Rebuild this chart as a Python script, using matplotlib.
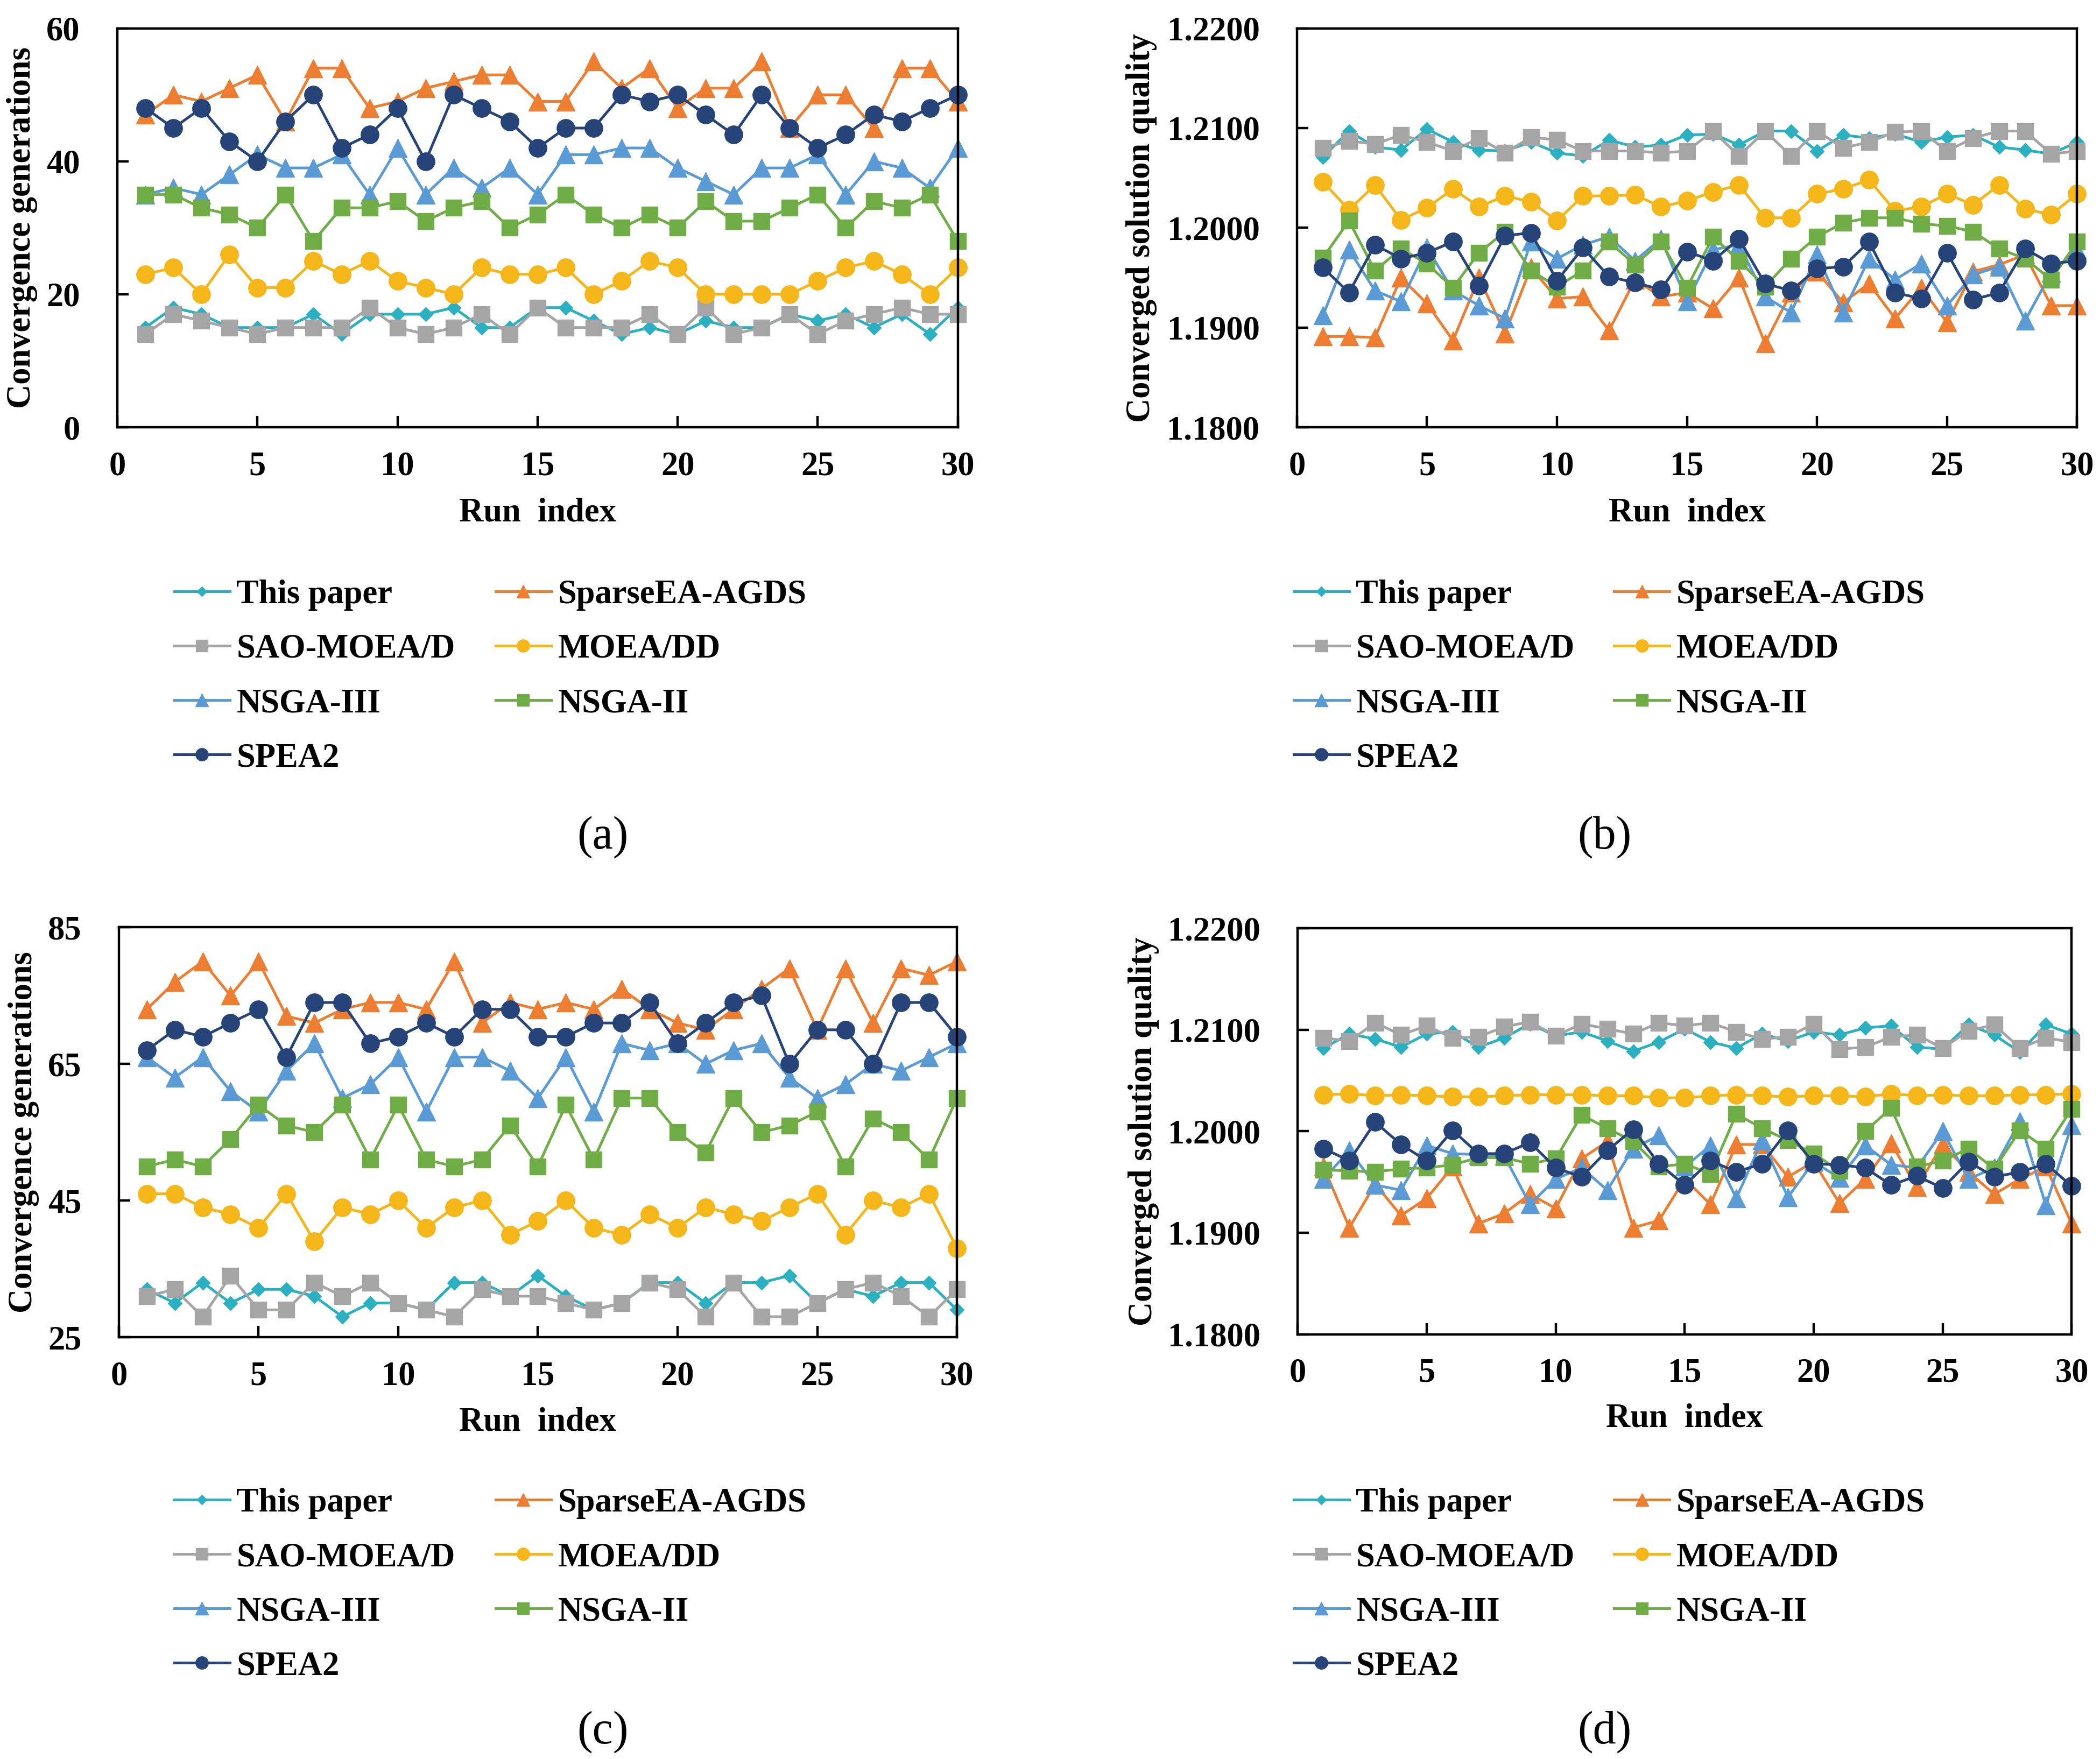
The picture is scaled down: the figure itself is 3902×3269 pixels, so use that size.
import numpy as np
import matplotlib
matplotlib.use("Agg")
import matplotlib.pyplot as plt
from matplotlib.ticker import FormatStrFormatter

runs = np.arange(1, 31)

names = ["This paper", "SparseEA-AGDS", "SAO-MOEA/D", "MOEA/DD", "NSGA-III", "NSGA-II", "SPEA2"]
colors = ["#2BB0C1", "#ED7D31", "#A5A5A5", "#F4B619", "#5B9BD5", "#70AD47", "#264478"]
markers = ["D", "^", "s", "o", "^", "s", "o"]
msizes = [13, 25, 22, 24, 25, 22, 24]

# (a) convergence generations, case 1
a_this = [15, 18, 17, 15, 15, 15, 17, 14, 17, 17, 17, 18, 15, 15, 18, 18, 16, 14, 15, 14, 16, 15, 15, 17, 16, 17, 15, 17, 14, 18]
a_sparse = [47, 50, 49, 51, 53, 46, 54, 54, 48, 49, 51, 52, 53, 53, 49, 49, 55, 51, 54, 48, 51, 51, 55, 45, 50, 50, 45, 54, 54, 49]
a_sao = [14, 17, 16, 15, 14, 15, 15, 15, 18, 15, 14, 15, 17, 14, 18, 15, 15, 15, 17, 14, 18, 14, 15, 17, 14, 16, 17, 18, 17, 17]
a_moeadd = [23, 24, 20, 26, 21, 21, 25, 23, 25, 22, 21, 20, 24, 23, 23, 24, 20, 22, 25, 24, 20, 20, 20, 20, 22, 24, 25, 23, 20, 24]
a_nsga3 = [35, 36, 35, 38, 41, 39, 39, 41, 35, 42, 35, 39, 36, 39, 35, 41, 41, 42, 42, 39, 37, 35, 39, 39, 41, 35, 40, 39, 36, 42]
a_nsga2 = [35, 35, 33, 32, 30, 35, 28, 33, 33, 34, 31, 33, 34, 30, 32, 35, 32, 30, 32, 30, 34, 31, 31, 33, 35, 30, 34, 33, 35, 28]
a_spea2 = [48, 45, 48, 43, 40, 46, 50, 42, 44, 48, 40, 50, 48, 46, 42, 45, 45, 50, 49, 50, 47, 44, 50, 45, 42, 44, 47, 46, 48, 50]

# (b) converged solution quality, case 1
b_this = [1.2071, 1.2097, 1.2081, 1.2078, 1.2099, 1.2086, 1.2078, 1.2077, 1.2086, 1.2075, 1.2072, 1.2088, 1.2081, 1.2083, 1.2093,
          1.2094, 1.2083, 1.2097, 1.2097, 1.2077, 1.2093, 1.2090, 1.2094, 1.2086, 1.2091, 1.2093, 1.2081, 1.2078, 1.2074, 1.2086]
b_sparse = [1.1891, 1.1891, 1.1890, 1.1950, 1.1924, 1.1887, 1.1950, 1.1894, 1.1960, 1.1929, 1.1931, 1.1897, 1.1948, 1.1931, 1.1935,
            1.1919, 1.1950, 1.1884, 1.1935, 1.1956, 1.1925, 1.1944, 1.1909, 1.1940, 1.1905, 1.1956, 1.1963, 1.1973, 1.1922, 1.1922]
b_sao = [1.2080, 1.2087, 1.2084, 1.2093, 1.2086, 1.2077, 1.2090, 1.2075, 1.2091, 1.2088, 1.2077, 1.2077, 1.2077, 1.2075, 1.2077,
         1.2097, 1.2072, 1.2097, 1.2072, 1.2097, 1.2080, 1.2086, 1.2096, 1.2097, 1.2077, 1.2090, 1.2097, 1.2097, 1.2074, 1.2077]
b_moeadd = [1.2046, 1.2018, 1.2043, 1.2008, 1.2020, 1.2039, 1.2021, 1.2032, 1.2026, 1.2007, 1.2032, 1.2032, 1.2033, 1.2021, 1.2027,
            1.2036, 1.2043, 1.2010, 1.2010, 1.2034, 1.2039, 1.2048, 1.2017, 1.2021, 1.2034, 1.2023, 1.2043, 1.2019, 1.2013, 1.2034]
b_nsga3 = [1.1912, 1.1978, 1.1937, 1.1926, 1.1980, 1.1937, 1.1922, 1.1909, 1.1986, 1.1969, 1.1983, 1.1991, 1.1967, 1.1989, 1.1926,
           1.1978, 1.1983, 1.1931, 1.1915, 1.1973, 1.1915, 1.1969, 1.1948, 1.1964, 1.1922, 1.1953, 1.1961, 1.1907, 1.1955, 1.1978]
b_nsga2 = [1.1970, 1.2007, 1.1957, 1.1979, 1.1964, 1.1940, 1.1975, 1.1996, 1.1957, 1.1941, 1.1957, 1.1986, 1.1963, 1.1986, 1.1940,
           1.1991, 1.1967, 1.1941, 1.1969, 1.1991, 1.2005, 1.2010, 1.2010, 1.2004, 1.2002, 1.1996, 1.1979, 1.1969, 1.1948, 1.1986]
b_spea2 = [1.1960, 1.1935, 1.1983, 1.1969, 1.1975, 1.1986, 1.1942, 1.1992, 1.1995, 1.1947, 1.1980, 1.1951, 1.1945, 1.1938, 1.1976,
           1.1967, 1.1989, 1.1944, 1.1937, 1.1959, 1.1961, 1.1986, 1.1935, 1.1929, 1.1975, 1.1928, 1.1935, 1.1979, 1.1964, 1.1967]

# (c) convergence generations, case 2
c_this = [32, 30, 33, 30, 32, 32, 31, 28, 30, 30, 29, 33, 33, 31, 34, 31, 29, 30, 33, 33, 30, 33, 33, 34, 30, 32, 31, 33, 33, 29]
c_sparse = [73, 77, 80, 75, 80, 72, 71, 73, 74, 74, 73, 80, 71, 74, 73, 74, 73, 76, 73, 71, 70, 73, 76, 79, 70, 79, 71, 79, 78, 80]
c_sao = [31, 32, 28, 34, 29, 29, 33, 31, 33, 30, 29, 28, 32, 31, 31, 30, 29, 30, 33, 32, 28, 33, 28, 28, 30, 32, 33, 31, 28, 32]
c_moeadd = [46, 46, 44, 43, 41, 46, 39, 44, 43, 45, 41, 44, 45, 40, 42, 45, 41, 40, 43, 41, 44, 43, 42, 44, 46, 40, 45, 44, 46, 38]
c_nsga3 = [66, 63, 66, 61, 58, 64, 68, 60, 62, 66, 58, 66, 66, 64, 60, 66, 58, 68, 67, 68, 65, 67, 68, 63, 60, 62, 65, 64, 66, 68]
c_nsga2 = [50, 51, 50, 54, 59, 56, 55, 59, 51, 59, 51, 50, 51, 56, 50, 59, 51, 60, 60, 55, 52, 60, 55, 56, 58, 50, 57, 55, 51, 60]
c_spea2 = [67, 70, 69, 71, 73, 66, 74, 74, 68, 69, 71, 69, 73, 73, 69, 69, 71, 71, 74, 68, 71, 74, 75, 65, 70, 70, 65, 74, 74, 69]

# (d) converged solution quality, case 2
d_this = [1.2082, 1.2096, 1.2091, 1.2083, 1.2096, 1.2098, 1.2083, 1.2092, 1.2106, 1.2094, 1.2098, 1.2089, 1.2079, 1.2088, 1.2101,
          1.2088, 1.2082, 1.2096, 1.2089, 1.2098, 1.2095, 1.2102, 1.2104, 1.2083, 1.2081, 1.2105, 1.2095, 1.2078, 1.2105, 1.2096]
d_sparse = [1.1965, 1.1905, 1.1948, 1.1917, 1.1934, 1.1965, 1.1909, 1.1919, 1.1938, 1.1924, 1.1973, 1.1990, 1.1905, 1.1912, 1.1953,
            1.1928, 1.1987, 1.1987, 1.1955, 1.1970, 1.1929, 1.1953, 1.1988, 1.1945, 1.1987, 1.1960, 1.1938, 1.1953, 1.1965, 1.1909]
d_sao = [1.2092, 1.2089, 1.2107, 1.2095, 1.2104, 1.2092, 1.2093, 1.2103, 1.2108, 1.2094, 1.2106, 1.2101, 1.2096, 1.2107, 1.2104,
         1.2107, 1.2098, 1.2091, 1.2093, 1.2106, 1.2081, 1.2083, 1.2093, 1.2095, 1.2082, 1.2099, 1.2105, 1.2082, 1.2092, 1.2088]
d_moeadd = [1.2036, 1.2037, 1.2035, 1.2036, 1.2035, 1.2034, 1.2034, 1.2035, 1.2036, 1.2036, 1.2036, 1.2035, 1.2035, 1.2033, 1.2033,
            1.2035, 1.2036, 1.2035, 1.2034, 1.2035, 1.2035, 1.2034, 1.2037, 1.2035, 1.2036, 1.2035, 1.2035, 1.2036, 1.2036, 1.2037]
d_nsga3 = [1.1953, 1.1981, 1.1947, 1.1942, 1.1986, 1.1978, 1.1977, 1.1976, 1.1928, 1.1953, 1.1964, 1.1942, 1.1983, 1.1996, 1.1965,
           1.1986, 1.1934, 1.1991, 1.1935, 1.1970, 1.1954, 1.1986, 1.1967, 1.1964, 1.2000, 1.1953, 1.1964, 1.2010, 1.1927, 1.2006]
d_nsga2 = [1.1962, 1.1961, 1.1960, 1.1963, 1.1964, 1.1967, 1.1974, 1.1974, 1.1968, 1.1973, 1.2016, 1.2003, 1.1990, 1.1965, 1.1968,
           1.1958, 1.2017, 1.2003, 1.1991, 1.1978, 1.1961, 1.2000, 1.2023, 1.1965, 1.1971, 1.1983, 1.1963, 1.2001, 1.1983, 1.2022]
d_spea2 = [1.1983, 1.1971, 1.2009, 1.1987, 1.1971, 1.2001, 1.1978, 1.1978, 1.1989, 1.1964, 1.1955, 1.1981, 1.2002, 1.1968, 1.1947,
           1.1971, 1.1960, 1.1968, 1.2001, 1.1968, 1.1967, 1.1964, 1.1947, 1.1956, 1.1944, 1.1970, 1.1955, 1.1960, 1.1968, 1.1946]

plt.rcParams["font.family"] = ["Liberation Serif", "DejaVu Serif"]
plt.rcParams["font.weight"] = "bold"
plt.rcParams["axes.linewidth"] = 3.2

FS = 45

fig = plt.figure(figsize=(39.02, 32.69), dpi=100)


def draw_panel(rect, series, ylim, yticks, ylabel, yfmt, ylab_x, xlab_y, leg_x, leg_y, tag, tag_xy):
    ax = fig.add_axes(rect)
    lines = []
    for vals, name, c, m, ms in zip(series, names, colors, markers, msizes):
        ln, = ax.plot(runs, vals, color=c, marker=m, markersize=ms, linewidth=3.6,
                      label=name, clip_on=False)
        lines.append(ln)
    ax.set_xlim(0, 30)
    ax.set_xticks(range(0, 31, 5))
    ax.set_ylim(*ylim)
    ax.set_yticks(yticks)
    ax.yaxis.set_major_formatter(FormatStrFormatter(yfmt))
    ax.tick_params(direction="in", length=15, width=3.2, labelsize=FS,
                   top=False, right=False)
    ax.tick_params(axis="x", pad=32)
    ax.tick_params(axis="y", pad=50)
    ax.set_xlabel("Run  index", fontsize=FS, fontweight="bold")
    ax.set_ylabel(ylabel, fontsize=FS, fontweight="bold")
    ax.xaxis.set_label_coords(0.5, xlab_y)
    ax.yaxis.set_label_coords(ylab_x, 0.5)

    # two legend columns below the panel
    order1 = [0, 2, 4, 6]
    order2 = [1, 3, 5]
    for idx, lx in zip([order1, order2], leg_x):
        fig.legend([lines[i] for i in idx], [names[i] for i in idx],
                   loc="upper left", bbox_to_anchor=(lx, leg_y),
                   frameon=False, fontsize=FS, markerscale=0.7,
                   handlelength=1.65, handletextpad=0.2, labelspacing=0.69,
                   borderpad=0, borderaxespad=0)
    fig.text(tag_xy[0], tag_xy[1], tag, fontsize=62, fontweight="normal",
             ha="center", va="center")
    return ax


draw_panel([0.0559, 0.7571, 0.4002, 0.2268],
           [a_this, a_sparse, a_sao, a_moeadd, a_nsga3, a_nsga2, a_spea2],
           (0, 60), range(0, 61, 20), "Convergence generations", "%d",
           -0.095, -0.176, (0.083, 0.236), 0.6706, "(a)", (0.287, 0.524))

draw_panel([0.6176, 0.7571, 0.3715, 0.2268],
           [b_this, b_sparse, b_sao, b_moeadd, b_nsga3, b_nsga2, b_spea2],
           (1.18, 1.22), np.arange(1.18, 1.2201, 0.01), "Converged solution quality", "%.4f",
           -0.179, -0.176, (0.616, 0.7686), 0.6706, "(b)", (0.764, 0.524))

draw_panel([0.0566, 0.2398, 0.3991, 0.2330],
           [c_this, c_sparse, c_sao, c_moeadd, c_nsga3, c_nsga2, c_spea2],
           (25, 85), range(25, 86, 20), "Convergence generations", "%d",
           -0.095, -0.170, (0.083, 0.236), 0.1542, "(c)", (0.287, 0.0153))

draw_panel([0.6180, 0.2415, 0.3685, 0.2307],
           [d_this, d_sparse, d_sao, d_moeadd, d_nsga3, d_nsga2, d_spea2],
           (1.18, 1.22), np.arange(1.18, 1.2201, 0.01), "Converged solution quality", "%.4f",
           -0.179, -0.170, (0.616, 0.7686), 0.1542, "(d)", (0.764, 0.0153))

fig.savefig("out.png", dpi=100, facecolor="white")
